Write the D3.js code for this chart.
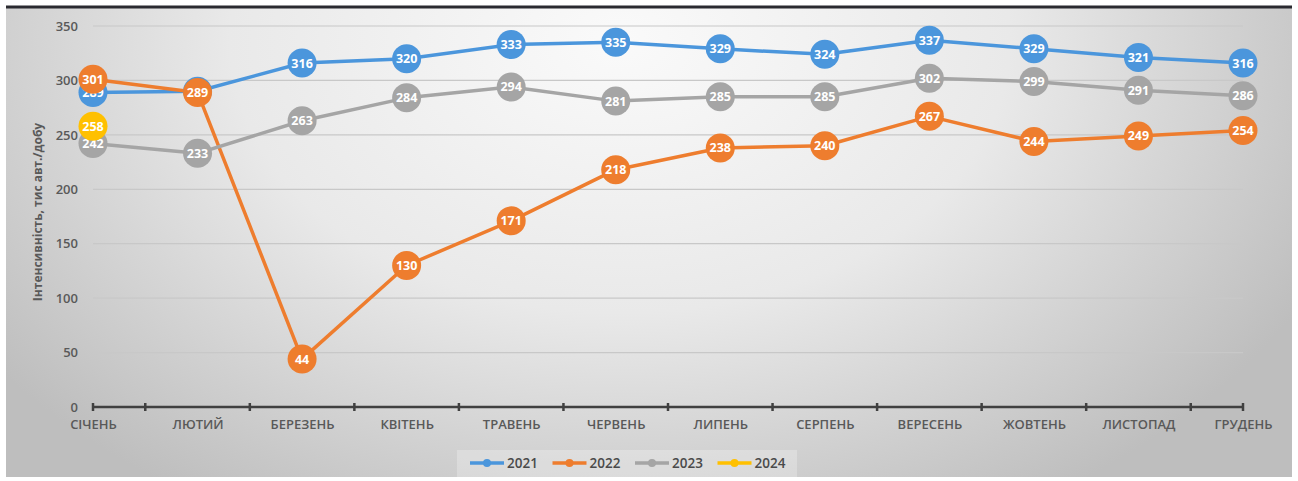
<!DOCTYPE html>
<html>
<head>
<meta charset="utf-8">
<script src="https://cdn.jsdelivr.net/npm/d3@7"></script>
<style>
  html, body { margin: 0; padding: 0; background: #fff; }
  svg { display: block; }
</style>
</head>
<body>
<svg id="chart" width="1298" height="481"></svg>
<script>
// Monthly traffic intensity, thousand vehicles per day
const months = ["СІЧЕНЬ", "ЛЮТИЙ", "БЕРЕЗЕНЬ", "КВІТЕНЬ", "ТРАВЕНЬ", "ЧЕРВЕНЬ",
                "ЛИПЕНЬ", "СЕРПЕНЬ", "ВЕРЕСЕНЬ", "ЖОВТЕНЬ", "ЛИСТОПАД", "ГРУДЕНЬ"];
const values2021 = [289, 290, 316, 320, 333, 335, 329, 324, 337, 329, 321, 316];
const values2022 = [301, 289, 44, 130, 171, 218, 238, 240, 267, 244, 249, 254];
const values2023 = [242, 233, 263, 284, 294, 281, 285, 285, 302, 299, 291, 286];
const values2024 = [258];
const seriesNames = ["2021", "2022", "2023", "2024"];
const yTicks = [0, 50, 100, 150, 200, 250, 300, 350];
const yTitle = "Інтенсивність, тис авт./добу";

const colors = { "2021": "#4b96dc", "2022": "#ee7d2e", "2023": "#a5a5a5", "2024": "#ffc000" };
const series = [
  { name: "2021", values: values2021 },
  { name: "2022", values: values2022 },
  { name: "2023", values: values2023 },
  { name: "2024", values: values2024 }
];

const svg = d3.select("#chart");
const font = "'Open Sans', 'Noto Sans', sans-serif";

// Background panel with soft radial shading
const defs = svg.append("defs");
const grad = defs.append("radialGradient")
  .attr("id", "bg").attr("gradientUnits", "userSpaceOnUse")
  .attr("cx", 620).attr("cy", 40).attr("r", 780)
  .attr("gradientTransform", "translate(620,40) scale(1,0.7) translate(-620,-40)");
grad.append("stop").attr("offset", "0%").attr("stop-color", "#fafafa");
grad.append("stop").attr("offset", "50%").attr("stop-color", "#e9e9e9");
grad.append("stop").attr("offset", "100%").attr("stop-color", "#bebebe");

svg.append("rect").attr("x", 6).attr("y", 6).attr("width", 1286).attr("height", 471)
  .attr("fill", "url(#bg)");
svg.append("line").attr("x1", 6).attr("x2", 1292).attr("y1", 7).attr("y2", 7)
  .attr("stroke", "#2a2a30").attr("stroke-width", 3);

// Scales
const x = d3.scalePoint().domain(months).range([93, 1243]);
const y = d3.scaleLinear().domain([0, 350]).range([407, 26]);

// Gridlines
svg.append("g").selectAll("line").data(yTicks.filter(d => d > 0)).join("line")
  .attr("x1", 93).attr("x2", 1243)
  .attr("y1", d => y(d)).attr("y2", d => y(d))
  .attr("stroke", "#c8c8c8").attr("stroke-width", 1.2);

// Y axis labels
const yAxis = d3.axisLeft(y).tickValues(yTicks).tickSize(0).tickPadding(0);
const gy = svg.append("g").attr("transform", "translate(78,0)").call(yAxis);
gy.select(".domain").remove();
gy.selectAll("text").attr("font-family", font).attr("font-size", 13)
  .attr("font-weight", 600).attr("fill", "#595959");

// X axis: baseline with tick marks between categories
const step = x.step();
const tickPos = [x(months[0])].concat(months.slice(0, -1).map(m => x(m) + step / 2))
  .concat([x(months[months.length - 1])]);
svg.append("line").attr("x1", 93).attr("x2", 1243).attr("y1", y(0)).attr("y2", y(0))
  .attr("stroke", "#404040").attr("stroke-width", 2.5);
svg.append("g").selectAll("line").data(tickPos).join("line")
  .attr("x1", d => d).attr("x2", d => d)
  .attr("y1", y(0) - 4).attr("y2", y(0) + 4)
  .attr("stroke", "#404040").attr("stroke-width", 2.5);

const xAxis = d3.axisBottom(x).tickSize(0).tickPadding(0);
const gx = svg.append("g").attr("transform", `translate(0,${y(0) + 13})`).call(xAxis);
gx.select(".domain").remove();
gx.selectAll("text").attr("font-family", font).attr("font-size", 13)
  .attr("font-weight", 600).attr("fill", "#595959");

// Y axis title
svg.append("text")
  .attr("transform", "translate(42,212) rotate(-90)")
  .attr("text-anchor", "middle")
  .attr("font-family", font).attr("font-size", 12).attr("font-weight", 700)
  .attr("fill", "#595959")
  .text(yTitle);

// Lines
const line = d3.line().x((d, i) => x(months[i])).y(d => y(d));
const plot = svg.append("g");
series.forEach(s => {
  plot.append("path").datum(s.values)
    .attr("d", line).attr("fill", "none")
    .attr("stroke", colors[s.name]).attr("stroke-width", 3.5)
    .attr("stroke-linejoin", "round");
});

// Markers with value labels (2023 first, then 2021, 2022, 2024 on top)
const drawOrder = ["2023", "2021", "2022", "2024"];
drawOrder.forEach(name => {
  const s = series.find(d => d.name === name);
  const g = plot.append("g");
  s.values.forEach((v, i) => {
    g.append("circle").attr("cx", x(months[i])).attr("cy", y(v)).attr("r", 14.5)
      .attr("fill", colors[name]);
    g.append("text").attr("x", x(months[i])).attr("y", y(v))
      .attr("dy", "0.36em").attr("text-anchor", "middle")
      .attr("font-family", font).attr("font-size", 12.5).attr("font-weight", 700)
      .attr("fill", "#ffffff")
      .text(v);
  });
});

// Legend
const legend = svg.append("g");
legend.append("rect").attr("x", 457).attr("y", 450).attr("width", 340).attr("height", 27)
  .attr("fill", "#ffffff").attr("fill-opacity", 0.25);
seriesNames.forEach((name, i) => {
  const lx = 470 + i * 82.5;
  const ly = 463;
  const item = legend.append("g");
  item.append("line").attr("x1", lx).attr("x2", lx + 34).attr("y1", ly).attr("y2", ly)
    .attr("stroke", colors[name]).attr("stroke-width", 3.5);
  item.append("circle").attr("cx", lx + 17).attr("cy", ly).attr("r", 4)
    .attr("fill", colors[name]);
  item.append("text").attr("x", lx + 37).attr("y", ly).attr("dy", "0.36em")
    .attr("font-family", font).attr("font-size", 13.5).attr("font-weight", 600)
    .attr("fill", "#4a4a4a").text(name);
});
</script>
</body>
</html>
